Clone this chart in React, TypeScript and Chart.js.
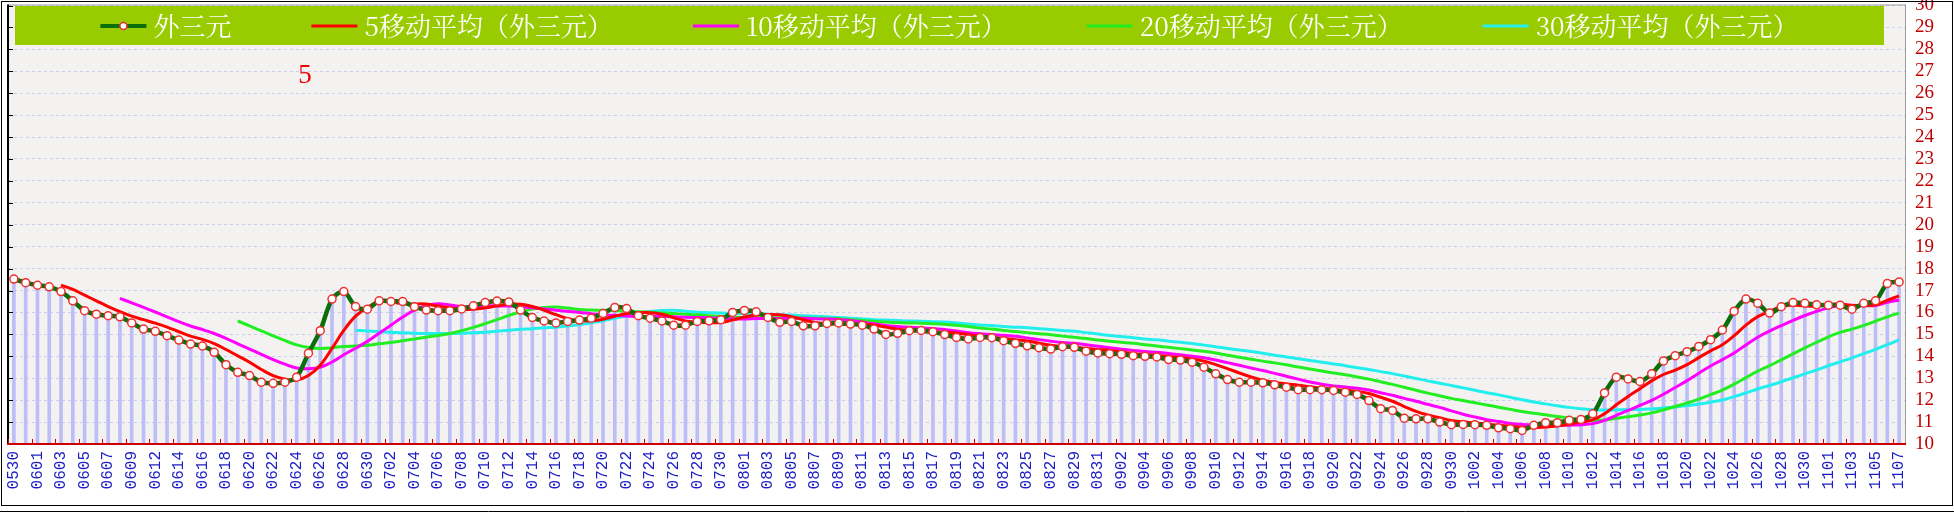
import React, { useEffect, useRef } from 'react';
import { Chart, registerables } from 'chart.js';
Chart.register(...registerables);

const dates = [
  '0530','0531',
  '0601','0602','0603','0604','0605','0606','0607','0608','0609','0610','0612','0613','0614','0615','0616','0617','0618','0619','0620','0621','0622','0623','0624','0625','0626','0627','0628','0629','0630',
  '0701','0702','0703','0704','0705','0706','0707','0708','0709','0710','0711','0712','0713','0714','0715','0716','0717','0718','0719','0720','0721','0722','0723','0724','0725','0726','0727','0728','0729','0730','0731',
  '0801','0802','0803','0804','0805','0806','0807','0808','0809','0810','0811','0812','0813','0814','0815','0816','0817','0818','0819','0820','0821','0822','0823','0824','0825','0826','0827','0828','0829','0830','0831',
  '0901','0902','0903','0904','0905','0906','0907','0908','0909','0910','0911','0912','0913','0914','0915','0916','0917','0918','0919','0920','0921','0922','0923','0924','0925','0926','0927','0928','0929','0930',
  '1001','1002','1003','1004','1005','1006','1007','1008','1009','1010','1011','1012','1013','1014','1015','1016','1017','1018','1019','1020','1021','1022','1023','1024','1025','1026','1027','1028','1029','1030','1031',
  '1101','1102','1103','1104','1105','1106','1107'
];

const mainValues = [
  17.52,17.36,17.24,17.17,16.95,16.53,16.08,15.92,15.85,15.80,
  15.52,15.24,15.14,14.94,14.74,14.56,14.47,14.18,13.62,13.27,
  13.12,12.82,12.77,12.82,13.05,14.14,15.17,16.61,16.95,16.27,
  16.15,16.53,16.50,16.50,16.26,16.11,16.08,16.08,16.16,16.30,
  16.45,16.52,16.48,16.11,15.77,15.61,15.52,15.59,15.65,15.74,
  15.95,16.23,16.18,15.85,15.74,15.61,15.42,15.42,15.59,15.62,
  15.67,16.00,16.09,16.03,15.77,15.55,15.59,15.39,15.39,15.50,
  15.52,15.47,15.42,15.24,15.00,15.05,15.17,15.18,15.12,14.99,
  14.86,14.79,14.86,14.85,14.71,14.59,14.48,14.39,14.33,14.44,
  14.41,14.23,14.15,14.12,14.09,14.03,14.00,13.97,13.85,13.83,
  13.73,13.50,13.20,12.94,12.82,12.82,12.79,12.70,12.59,12.48,
  12.48,12.48,12.44,12.36,12.26,11.98,11.61,11.53,11.18,11.15,
  11.15,11.00,10.88,10.89,10.88,10.85,10.74,10.70,10.62,10.85,
  10.97,10.97,11.08,11.12,11.38,12.33,13.05,12.97,12.85,13.20,
  13.79,14.03,14.21,14.45,14.76,15.20,16.06,16.61,16.42,15.97,
  16.26,16.45,16.42,16.35,16.33,16.33,16.15,16.42,16.53,17.32,
  17.39
];

const ma5 = [
  null,null,null,null,
  17.25,17.05,16.79,16.53,16.27,16.04,15.83,15.67,15.51,15.33,15.12,14.92,14.77,14.58,14.31,14.02,
  13.73,13.40,13.12,12.96,12.92,13.12,13.59,14.36,15.18,15.83,16.23,16.50,16.48,16.39,16.39,16.38,
  16.29,16.21,16.14,16.15,16.21,16.30,16.38,16.37,16.27,16.10,15.90,15.72,15.63,15.62,15.69,15.83,
  15.95,15.99,15.99,15.92,15.76,15.61,15.56,15.53,15.54,15.66,15.79,15.88,15.91,15.89,15.81,15.67,
  15.54,15.48,15.48,15.45,15.46,15.43,15.33,15.24,15.18,15.13,15.10,15.10,15.06,14.99,14.92,14.87,
  14.81,14.76,14.70,14.60,14.50,14.45,14.41,14.36,14.31,14.27,14.20,14.12,14.08,14.04,13.99,13.94,
  13.88,13.78,13.62,13.44,13.24,13.06,12.91,12.81,12.74,12.68,12.61,12.55,12.49,12.45,12.40,12.30,
  12.13,11.95,11.71,11.49,11.32,11.20,11.07,11.01,10.96,10.90,10.85,10.81,10.76,10.75,10.78,10.82,
  10.90,11.00,11.10,11.38,11.79,12.17,12.52,12.88,13.17,13.37,13.62,13.94,14.25,14.53,14.94,15.42,
  15.81,16.05,16.26,16.34,16.30,16.29,16.36,16.38,16.32,16.32,16.35,16.55,16.76
];

const ma10 = [
  null,null,null,null,null,null,null,null,null,
  16.64,16.44,16.23,16.02,15.80,15.58,15.38,15.22,15.04,14.82,14.57,14.33,14.09,13.85,13.64,13.47,
  13.43,13.50,13.74,14.07,14.37,14.68,15.05,15.42,15.79,16.11,16.31,16.40,16.34,16.26,16.27,16.30,
  16.30,16.29,16.26,16.21,16.16,16.10,16.05,16.00,15.94,15.89,15.87,15.84,15.81,15.81,15.81,15.80,
  15.78,15.77,15.76,15.73,15.71,15.70,15.72,15.72,15.72,15.73,15.73,15.71,15.70,15.68,15.63,15.56,
  15.48,15.41,15.36,15.32,15.29,15.27,15.22,15.15,15.08,15.03,14.99,14.96,14.91,14.84,14.76,14.69,
  14.63,14.59,14.53,14.46,14.39,14.32,14.27,14.22,14.18,14.13,14.07,14.00,13.93,13.83,13.71,13.59,
  13.47,13.35,13.22,13.09,12.96,12.83,12.73,12.65,12.60,12.54,12.46,12.34,12.22,12.08,11.95,11.81,
  11.67,11.51,11.36,11.23,11.11,11.03,10.94,10.89,10.86,10.84,10.84,10.86,10.88,10.93,11.08,11.31,
  11.53,11.76,11.99,12.27,12.58,12.89,13.23,13.56,13.85,14.15,14.52,14.87,15.15,15.40,15.64,15.86,
  16.05,16.21,16.32,16.33,16.31,16.32,16.46,16.57
];

const ma20 = [
  null,null,null,null,null,null,null,null,null,null,null,null,null,null,null,null,null,null,null,
  15.61,15.39,15.16,14.93,14.72,14.52,14.40,14.36,14.39,14.45,14.47,14.50,14.57,14.63,14.71,14.79,
  14.87,14.95,15.04,15.17,15.32,15.49,15.67,15.86,16.02,16.16,16.23,16.25,16.20,16.13,16.11,16.10,
  16.08,16.06,16.03,16.01,15.98,15.95,15.92,15.89,15.85,15.81,15.79,15.77,15.76,15.76,15.76,15.76,
  15.75,15.74,15.73,15.71,15.67,15.63,15.60,15.56,15.54,15.52,15.51,15.49,15.46,15.42,15.36,15.29,
  15.24,15.18,15.13,15.08,15.03,14.98,14.92,14.87,14.81,14.74,14.69,14.64,14.59,14.53,14.47,14.41,
  14.35,14.29,14.23,14.15,14.05,13.96,13.87,13.78,13.70,13.61,13.51,13.42,13.33,13.24,13.16,13.06,
  12.96,12.84,12.72,12.59,12.45,12.32,12.20,12.08,11.98,11.88,11.78,11.68,11.58,11.48,11.40,11.33,
  11.25,11.18,11.12,11.08,11.09,11.17,11.24,11.32,11.42,11.56,11.71,11.87,12.05,12.25,12.46,12.73,
  13.03,13.32,13.57,13.84,14.11,14.38,14.64,14.89,15.09,15.24,15.41,15.60,15.80,15.98
];

const ma30 = [
  null,null,null,null,null,null,null,null,null,null,null,null,null,null,null,
  null,null,null,null,null,null,null,null,null,null,null,null,null,null,
  15.19,15.15,15.12,15.10,15.07,15.05,15.04,15.04,15.04,15.05,15.07,15.10,15.14,15.19,15.23,15.26,
  15.30,15.33,15.38,15.45,15.53,15.62,15.74,15.85,15.95,16.04,16.09,16.10,16.06,16.01,15.99,15.97,
  15.96,15.94,15.93,15.91,15.89,15.88,15.85,15.83,15.80,15.77,15.74,15.70,15.67,15.65,15.63,15.61,
  15.60,15.58,15.56,15.52,15.47,15.43,15.40,15.36,15.33,15.30,15.26,15.22,15.18,15.14,15.08,15.02,
  14.95,14.90,14.85,14.79,14.75,14.69,14.64,14.58,14.51,14.44,14.36,14.29,14.22,14.14,14.05,13.97,
  13.89,13.81,13.73,13.65,13.57,13.48,13.40,13.30,13.21,13.10,12.99,12.88,12.77,12.67,12.56,12.45,
  12.34,12.24,12.13,12.02,11.92,11.83,11.74,11.67,11.61,11.56,11.55,11.56,11.57,11.57,11.60,11.64,
  11.69,11.75,11.82,11.91,12.01,12.16,12.33,12.51,12.67,12.84,13.02,13.20,13.38,13.57,13.75,13.93,
  14.12,14.32,14.53,14.75
];

const seriesNames = ['外三元', '5移动平均（外三元）', '10移动平均（外三元）', '20移动平均（外三元）', '30移动平均（外三元）'];
const seriesColors = ['#0a6e0a', '#ff0000', '#ff00ff', '#22ee22', '#22eeee'];
const yMin = 10;
const yMax = 30;
const annotationText = '5';

const decorPlugin = {
  id: 'decor',
  beforeDraw(chart: any) {
    const { ctx, chartArea: a, width, height } = chart;
    ctx.save();
    ctx.fillStyle = '#ffffff';
    ctx.fillRect(0, 0, width, height);
    ctx.fillStyle = '#f4f2f1';
    ctx.fillRect(a.left, a.top, a.right - a.left, a.bottom - a.top);
    ctx.restore();
  },
  afterDraw(chart: any) {
    const { ctx, chartArea: a, width } = chart;
    const xs = chart.scales.x;
    const ys = chart.scales.y;
    ctx.save();
    // plot frame
    ctx.fillStyle = '#999999';
    ctx.fillRect(a.left, a.top - 1, a.right - a.left, 1);
    ctx.fillRect(a.right, a.top - 1, 1, a.bottom - a.top + 1);
    ctx.fillStyle = '#000000';
    ctx.fillRect(a.left - 1, a.top - 1, 2, a.bottom - a.top + 1);
    // left ticks
    ctx.strokeStyle = '#000000';
    ctx.lineWidth = 1;
    for (let v = yMin; v <= yMax; v++) {
      const y = Math.round(ys.getPixelForValue(v)) + 0.5;
      ctx.beginPath();
      ctx.moveTo(a.left, y);
      ctx.lineTo(a.left + 5, y);
      ctx.stroke();
    }
    // bottom axis
    ctx.fillStyle = '#cc0000';
    ctx.fillRect(a.left - 1, a.bottom - 1, a.right - a.left + 2, 2);
    const band = (a.right - a.left) / dates.length;
    ctx.strokeStyle = '#cc0000';
    for (let i = 0; i < dates.length; i += 2) {
      const x = Math.round(xs.getPixelForValue(i) - band / 2) + 0.5;
      ctx.beginPath();
      ctx.moveTo(x, a.bottom);
      ctx.lineTo(x, a.bottom - 5);
      ctx.stroke();
    }
    // outer border
    ctx.strokeStyle = '#000000';
    ctx.strokeRect(1.5, 1.5, width - 3, 504);
    ctx.beginPath();
    ctx.moveTo(0, 511.5);
    ctx.lineTo(width, 511.5);
    ctx.stroke();

    // legend
    const lx0 = a.left + 7, lx1 = a.right - 21, ly0 = 6, ly1 = 45;
    ctx.fillStyle = '#99cc00';
    ctx.fillRect(lx0, ly0, lx1 - lx0, ly1 - ly0);
    const lines = chart.data.datasets.filter((d: any) => d.type === 'line');
    ctx.font = '26px "Noto Serif CJK SC", "Noto Sans CJK SC"';
    ctx.textBaseline = 'middle';
    ctx.textAlign = 'left';
    const lineW = 46, gapT = 7, itemGap = 80;
    const widths = lines.map((d: any) => lineW + gapT + ctx.measureText(d.label).width);
    const total = widths.reduce((s: number, w: number) => s + w, 0) + itemGap * (lines.length - 1);
    let x = (lx0 + lx1) / 2 - total / 2;
    const cy = (ly0 + ly1) / 2 + 0.5;
    lines.forEach((d: any, k: number) => {
      ctx.strokeStyle = d.borderColor;
      ctx.lineWidth = k === 0 ? 4 : 3;
      ctx.beginPath();
      ctx.moveTo(x, cy);
      ctx.lineTo(x + lineW, cy);
      ctx.stroke();
      if (k === 0) {
        ctx.beginPath();
        ctx.arc(x + lineW / 2, cy, 3.5, 0, Math.PI * 2);
        ctx.fillStyle = '#ffffff';
        ctx.fill();
        ctx.strokeStyle = d.pointBorderColor;
        ctx.lineWidth = 1.5;
        ctx.stroke();
      }
      ctx.fillStyle = '#ffffff';
      ctx.fillText(d.label, x + lineW + gapT, cy);
      x += widths[k] + itemGap;
    });

    // annotation
    ctx.fillStyle = '#ee0000';
    ctx.font = '27px "Liberation Serif"';
    ctx.textAlign = 'center';
    ctx.textBaseline = 'middle';
    ctx.fillText(annotationText, 305, 76);
    ctx.restore();
  }
};

export default function App() {
  const ref = useRef<HTMLCanvasElement>(null);
  useEffect(() => {
    document.body.style.margin = '0';
    const canvas = ref.current!;
    const chart = new Chart(canvas, {
      type: 'bar',
      data: {
        labels: dates,
        datasets: [
          {
            type: 'line', label: seriesNames[0], data: mainValues,
            borderColor: seriesColors[0], borderWidth: 4.5,
            pointRadius: 4, pointBorderColor: '#ee3030', pointBackgroundColor: '#ffffff', pointBorderWidth: 1.5,
            tension: 0.3, order: 0,
          } as any,
          { type: 'line', label: seriesNames[1], data: ma5, borderColor: seriesColors[1], borderWidth: 3, pointRadius: 0, tension: 0.4, order: 1 } as any,
          { type: 'line', label: seriesNames[2], data: ma10, borderColor: seriesColors[2], borderWidth: 3, pointRadius: 0, tension: 0.4, order: 2 } as any,
          { type: 'line', label: seriesNames[3], data: ma20, borderColor: seriesColors[3], borderWidth: 3, pointRadius: 0, tension: 0.4, order: 3 } as any,
          { type: 'line', label: seriesNames[4], data: ma30, borderColor: seriesColors[4], borderWidth: 3, pointRadius: 0, tension: 0.4, order: 4 } as any,
          { type: 'bar', label: 'drop', data: mainValues, backgroundColor: '#bdbdf7', barThickness: 3, order: 10 } as any,
        ],
      },
      options: {
        responsive: false,
        animation: false,
        devicePixelRatio: 1,
        layout: { padding: { left: 8, top: 4, right: 0, bottom: 0 } },
        plugins: { legend: { display: false }, tooltip: { enabled: false } },
        scales: {
          x: {
            type: 'category',
            offset: true,
            grid: { display: false, drawTicks: false },
            border: { display: false },
            ticks: {
              autoSkip: false,
              minRotation: 90,
              maxRotation: 90,
              padding: 7,
              color: '#1c1cc4',
              font: { family: '"Liberation Mono"', size: 16 },
              callback: (_v: any, idx: number) => (idx % 2 === 0 ? dates[idx] : ''),
            },
            afterFit: (s: any) => { s.height = 69; s.paddingLeft = 0; s.paddingRight = 0; },
          },
          y: {
            position: 'right',
            min: yMin,
            max: yMax,
            grid: { color: '#ccccee', drawTicks: false },
            border: { display: false, dash: [3, 3] },
            ticks: {
              autoSkip: false,
              stepSize: 1,
              padding: 10,
              color: '#c00000',
              font: { family: '"Liberation Serif"', size: 19 },
            },
            afterFit: (s: any) => { s.width = 49; s.paddingTop = 0; s.paddingBottom = 0; },
          },
        },
      } as any,
      plugins: [decorPlugin],
    });
    return () => chart.destroy();
  }, []);
  return (
    <div style={{ position: 'absolute', left: 0, top: 0, width: 1954, height: 513 }}>
      <canvas ref={ref} width={1954} height={513} style={{ display: 'block' }} />
    </div>
  );
}
